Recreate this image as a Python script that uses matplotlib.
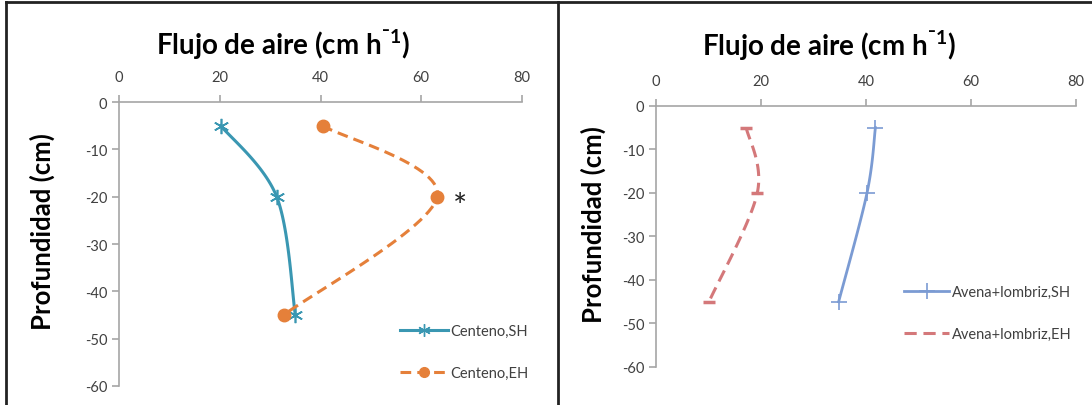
import numpy as np
import matplotlib
matplotlib.use("Agg")
import matplotlib.pyplot as plt
from matplotlib.lines import Line2D

plt.rcParams['font.family'] = ['Lato', 'DejaVu Sans']
plt.rcParams['mathtext.default'] = 'regular'
plt.rcParams['axes.unicode_minus'] = False

# data (depth in cm, air flow in cm/h)
depth = [-5, -20, -45]
centeno_sh = [20.2, 31.3, 35.0]
centeno_eh = [40.4, 63.2, 32.7]
avena_sh = [41.8, 40.2, 34.8]
avena_eh = [17.2, 19.3, 10.1]
xticks = [0, 20, 40, 60, 80]
yticks = [0, -10, -20, -30, -40, -50, -60]
title = 'Flujo de aire (cm h$^{\u00af1}$)'
ylabel = 'Profundidad (cm)'


def smooth(x, y, n=30):
    # excel-like smoothed line (bezier through the points)
    p = np.column_stack([x, y]).astype(float)
    ext = np.vstack([p[0], p, p[-1]])
    out = []
    t = np.linspace(0, 1, n)[:, None]
    for i in range(len(p) - 1):
        p0, p1 = ext[i + 1], ext[i + 2]
        c1 = p0 + (ext[i + 2] - ext[i]) / 6
        c2 = p1 - (ext[i + 3] - ext[i + 1]) / 6
        seg = ((1 - t) ** 3) * p0 + 3 * ((1 - t) ** 2) * t * c1 + 3 * (1 - t) * t ** 2 * c2 + t ** 3 * p1
        out.append(seg)
    out = np.vstack(out)
    return out[:, 0], out[:, 1]


def style_axes(ax):
    ax.set_xlim(0, 80)
    ax.set_ylim(-60, 0)
    ax.set_xticks(xticks)
    ax.set_yticks(yticks)
    ax.xaxis.tick_top()
    for s in ['right', 'bottom']:
        ax.spines[s].set_visible(False)
    for s in ['top', 'left']:
        ax.spines[s].set_color('#a6a6a6')
        ax.spines[s].set_linewidth(1.2)
    ax.tick_params(colors='#a6a6a6', labelcolor='#404040', labelsize=10.5, length=5, width=1.2)
    ax.tick_params(axis='x', pad=8)
    ax.set_facecolor('none')


fig = plt.figure(figsize=(10.92, 4.06), dpi=100)

# left panel
ax1 = fig.add_axes([0.109, 0.0468, 0.369, 0.6995])
style_axes(ax1)
c_sh = '#3a97b2'
c_eh = '#e5803a'
sx, sy = smooth(centeno_sh, depth)
ax1.plot(sx, sy, color=c_sh, lw=2.2)
ax1.plot(centeno_sh, depth, ls='none', marker=(6, 2, 0), ms=11, mec=c_sh, mew=1.2)
ex, ey = smooth(centeno_eh, depth)
ax1.plot(ex, ey, color=c_eh, lw=2.2, dashes=(3.5, 2))
ax1.plot(centeno_eh, depth, ls='none', marker='o', ms=9, color=c_eh)
ax1.text(67.8, -22.2, '*', fontsize=24, ha='center', va='center', color='#222222')

h1 = [Line2D([], [], color=c_sh, lw=2.2, marker=(6, 2, 0), ms=9, mew=1.0),
      Line2D([], [], color=c_eh, lw=2.2, dashes=(3.5, 2), marker='o', ms=7)]
fig.legend(h1, ['Centeno,SH', 'Centeno,EH'], loc='upper left',
           bbox_to_anchor=(0.354, 0.232), frameon=False, fontsize=10.5,
           handlelength=3.3, handletextpad=0.15, labelspacing=1.9, labelcolor='#404040')

# right panel
ax2 = fig.add_axes([0.6007, 0.0936, 0.3846, 0.643])
style_axes(ax2)
a_sh = '#7b9bd3'
a_eh = '#d4787a'
sx, sy = smooth(avena_sh, depth)
ax2.plot(sx, sy, color=a_sh, lw=2)
ax2.plot(avena_sh, depth, ls='none', marker='+', ms=11, mec=a_sh, mew=1.2)
ex, ey = smooth(avena_eh, depth)
ax2.plot(ex, ey, color=a_eh, lw=2.2, dashes=(4, 2.2))
ax2.plot(avena_eh, depth, ls='none', marker='_', ms=8, mec=a_eh, mew=2.5)

h2 = [Line2D([], [], color=a_sh, lw=2, marker='+', ms=11, mew=1.2),
      Line2D([], [], color=a_eh, lw=2.2, dashes=(4, 2.2))]
fig.legend(h2, ['Avena+lombriz,SH', 'Avena+lombriz,EH'], loc='upper left',
           bbox_to_anchor=(0.816, 0.328), frameon=False, fontsize=10.5,
           handlelength=3.1, handletextpad=0.15, labelspacing=1.9, labelcolor='#404040')

# titles and y labels
fig.text(0.259, 0.89, title, ha='center', va='center', fontsize=20, fontweight='bold')
fig.text(0.759, 0.887, title, ha='center', va='center', fontsize=20, fontweight='bold')
fig.text(0.039, 0.43, ylabel, ha='center', va='center', rotation=90, fontsize=18.5, fontweight='bold')
fig.text(0.543, 0.448, ylabel, ha='center', va='center', rotation=90, fontsize=18.5, fontweight='bold')

# black frame around the panels
for xs, ys in [([0.0055, 0.0055], [0, 0.993]), ([0.0055, 1], [0.993, 0.993]), ([0.511, 0.511], [0, 0.993])]:
    fig.add_artist(Line2D(xs, ys, color='#222222', lw=2))

fig.savefig('out.png', dpi=100)
